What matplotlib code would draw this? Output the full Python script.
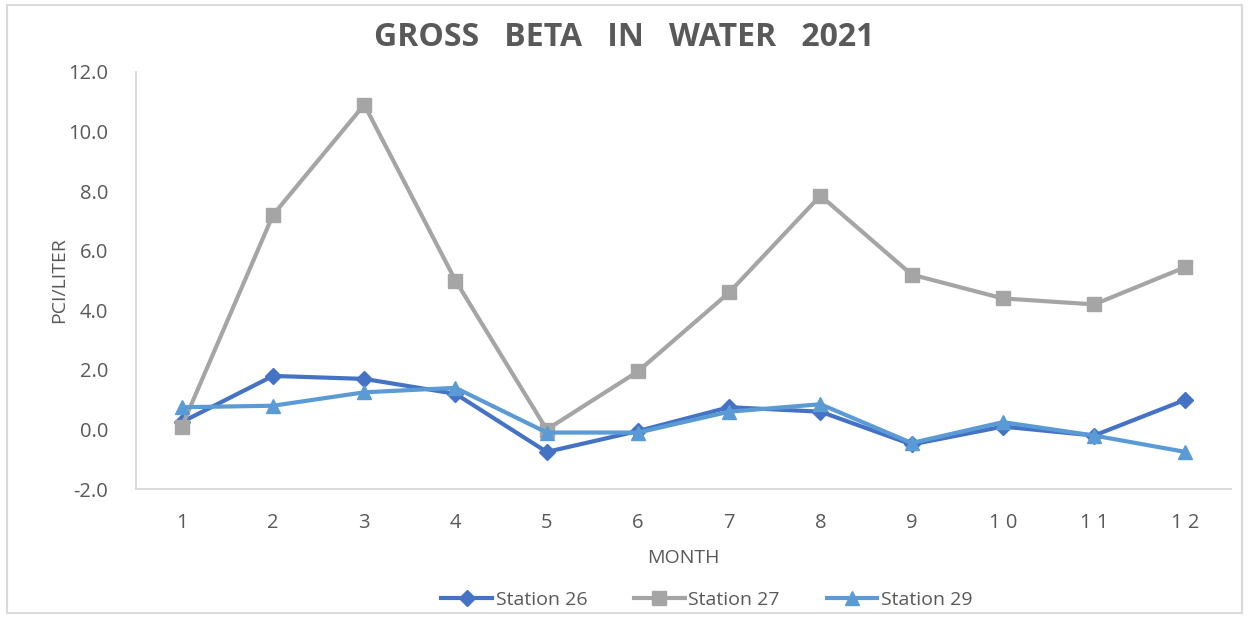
import matplotlib.pyplot as plt
from matplotlib.patches import Rectangle

months = ["1", "2", "3", "4", "5", "6", "7", "8", "9", "1 0", "1 1", "1 2"]
station_26 = [0.25, 1.8, 1.7, 1.2, -0.75, -0.05, 0.75, 0.6, -0.5, 0.1, -0.2, 1.0]
station_27 = [0.1, 7.2, 10.9, 5.0, 0.0, 1.95, 4.6, 7.85, 5.2, 4.4, 4.2, 5.45]
station_29 = [0.75, 0.8, 1.25, 1.4, -0.1, -0.1, 0.6, 0.85, -0.45, 0.25, -0.2, -0.75]

plt.rcParams['font.family'] = ['Open Sans', 'DejaVu Sans']
text_color = "#595959"

fig = plt.figure(figsize=(12.49, 6.2), dpi=100)
ax = fig.add_axes([0.109, 0.211, 0.8766, 0.673])

x = range(1, len(months) + 1)
ax.plot(x, station_26, color="#4472C4", lw=3, marker="D", ms=8, label="Station 26")
ax.plot(x, station_27, color="#A5A5A5", lw=3, marker="s", ms=10, label="Station 27")
ax.plot(x, station_29, color="#5B9BD5", lw=3, marker="^", ms=10, label="Station 29")

ax.set_xlim(0.5, 12.5)
ax.set_ylim(-2, 12)
ax.set_yticks(range(-2, 13, 2))
ax.set_yticklabels([f"{v:.1f}" for v in range(-2, 13, 2)])
ax.set_xticks(list(x), months)
ax.tick_params(length=0, labelsize=14.5, colors=text_color)
ax.tick_params(axis="x", pad=17)
ax.tick_params(axis="y", pad=20)

for s in ["top", "right"]:
    ax.spines[s].set_visible(False)
for s in ["left", "bottom"]:
    ax.spines[s].set_color("#D9D9D9")
    ax.spines[s].set_linewidth(1.3)

ax.set_xlabel("MONTH", fontsize=14, color=text_color, labelpad=12)
ax.set_ylabel("PCI/LITER", fontsize=14, color=text_color)
ax.yaxis.set_label_coords(-0.062, 0.5)

fig.text(0.5, 0.94, "GROSS   BETA   IN   WATER   2021", ha="center", va="center",
         fontsize=23, fontweight="bold", color=text_color)

fig.legend(loc="center", bbox_to_anchor=(0.566, 0.033), ncol=3, frameon=False,
           fontsize=14, labelcolor=text_color, handlelength=2.6, handletextpad=0.2,
           columnspacing=2.4)

fig.patches.append(Rectangle((0.006, 0.012), 0.988, 0.98, transform=fig.transFigure,
                             fill=False, edgecolor="#D9D9D9", lw=1.5))

plt.savefig("out.png", dpi=100)
